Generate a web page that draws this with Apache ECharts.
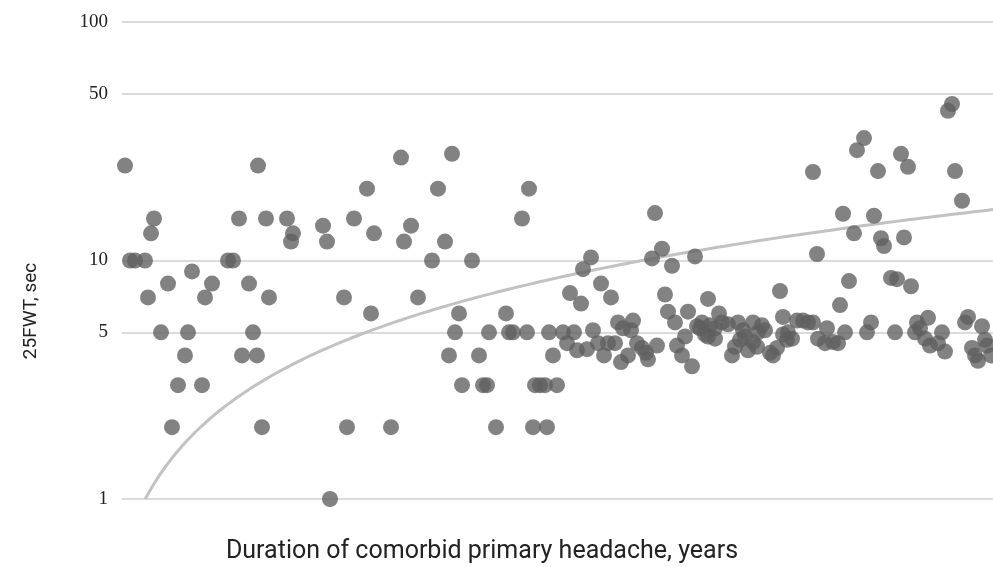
<!DOCTYPE html>
<html>
<head>
<meta charset="utf-8">
<script src="https://cdn.jsdelivr.net/npm/echarts@6/dist/echarts.min.js"></script>
<style>html,body{margin:0;padding:0;background:#fff}#c{width:993px;height:567px}</style>
</head>
<body>
<div id="c"></div>
<script>
// Duration of comorbid primary headache (x, arbitrary units read from pixel position)
const durationX = [
0.3,0.8,1.3,2.3,2.6,2.9,3.2,3.9,4.6,5.0,5.6,6.3,6.6,7.0,8.0,8.3,9.0,10.6,11.1,11.7,
12.0,12.7,13.1,13.5,13.6,14.0,14.4,14.7,16.5,17.1,16.9,20.1,20.5,20.8,22.2,22.5,23.2,24.5,24.9,25.2,
26.9,27.9,28.2,28.9,29.6,31.0,31.6,32.3,32.7,33.0,33.3,33.7,34.0,35.0,35.7,36.1,36.5,36.7,37.4,38.4,
38.7,39.1,40.0,40.5,40.7,41.1,41.3,41.8,42.3,42.5,42.7,43.1,43.5,44.1,44.5,44.8,45.2,45.5,45.9,46.1,
46.5,46.9,47.1,47.6,47.9,48.2,48.6,48.9,49.3,49.6,49.9,50.1,50.6,50.9,51.1,51.5,52.0,52.4,52.6,53.0,
53.3,53.5,54.0,54.3,54.6,55.0,55.3,55.5,56.0,56.3,56.6,57.0,57.3,57.5,57.8,58.0,58.3,58.6,58.6,58.8,
59.3,59.3,59.7,60.0,60.6,61.0,61.3,61.6,61.8,62.1,62.3,62.6,63.1,63.1,63.5,63.6,64.0,64.3,64.8,65.1,
65.5,65.8,66.1,66.1,66.5,66.6,67.0,67.5,68.1,68.6,69.1,69.1,69.5,69.6,70.3,70.5,71.1,71.6,71.8,72.1,
72.3,72.7,73.2,73.5,74.2,74.5,74.9,75.2,75.6,75.9,76.2,76.9,77.3,77.5,77.9,78.2,78.6,78.9,79.3,79.5,
79.8,80.3,80.6,80.8,81.6,82.0,82.3,82.6,83.0,83.3,84.0,84.3,84.6,85.0,85.3,85.6,86.0,86.3,86.5,86.9
];
// 25FWT, sec
const fwtSec = [
25,10,10,10,7,13,15,5,8,2,3,4,5,9,3,7,8,10,10,15,
4,8,5,4,25,2,15,7,15,13,12,14,12,1,7,2,15,20,6,13,
2,27,12,14,7,10,20,12,4,28,5,6,3,10,4,3,3,5,2,6,
5,5,15,5,20,2,3,3,3,2,5,4,3,5,4.5,7.3,5,4.2,6.6,9.2,
4.25,10.3,5.1,4.5,8,4,4.5,7,4.5,5.5,3.75,5.2,4,5.1,5.6,4.5,4.3,4.1,3.85,10.2,
15.8,4.4,11.2,7.2,6.1,9.5,5.5,4.4,4,4.8,6.1,3.6,10.4,5.3,5.2,5.5,4.9,6.9,4.8,5.35,
5.2,4.7,6,5.5,5.4,4,4.35,5.5,4.65,5.1,4.8,4.2,5.5,4.55,4.35,5,5.35,5.1,4.1,4,
4.3,7.45,5.8,4.9,4.65,5,4.7,5.6,5.6,5.5,5.5,23.5,10.65,4.7,4.5,5.2,4.55,4.5,6.5,15.7,
5,8.2,13,29,32.6,5,5.5,15.4,23.7,12.4,11.5,8.45,5,8.35,28,12.5,24.7,7.8,5,5.5,
5.2,4.7,5.75,4.4,4.5,5,4.15,42.4,45.3,23.7,17.8,5.5,5.8,4.3,4,3.8,5.3,4.65,4.4,4.0
];
// y-axis tick labels
const yTicks = [1, 5, 10, 50, 100];
// linear trendline: y = a + b*x
const trendIntercept = 0.58;
const trendSlope = 0.181;
const xMax = 87.1;

const points = durationX.map((x, i) => [x, fwtSec[i]]);
const xStart = (1 - trendIntercept) / trendSlope;
const trend = [];
for (let k = 0; k <= 120; k++) {
  const x = xStart + (xMax - xStart) * k / 120;
  trend.push([x, trendIntercept + trendSlope * x]);
}

const chart = echarts.init(document.getElementById('c'));
chart.setOption({
  animation: false,
  grid: { left: 122, right: 0, top: 22, bottom: 68, containLabel: false },
  xAxis: {
    type: 'value', min: 0, max: xMax,
    axisLine: { show: false }, axisTick: { show: false },
    axisLabel: { show: false }, splitLine: { show: false }
  },
  yAxis: {
    type: 'log', logBase: 10, min: 1, max: 100,
    axisLine: { show: false },
    axisTick: { show: false, customValues: yTicks },
    axisLabel: {
      customValues: yTicks, margin: 14,
      fontFamily: 'Liberation Serif', fontSize: 19, color: '#222'
    },
    splitLine: { show: true, lineStyle: { color: '#cfcfcf', width: 1.5 } }
  },
  graphic: [
    { type: 'text', x: 31, y: 311, rotation: Math.PI / 2,
      style: { text: '25FWT, sec', font: '19px Roboto', fill: '#222', textAlign: 'center', textVerticalAlign: 'middle' } },
    { type: 'text', x: 482, y: 552,
      style: { text: 'Duration of comorbid primary headache, years', font: '25px Roboto', fill: '#222', textAlign: 'center', textVerticalAlign: 'middle' } }
  ],
  series: [
    { type: 'line', data: trend, showSymbol: false, smooth: false, z: 1,
      lineStyle: { color: '#c2c2c2', width: 3 } },
    { type: 'scatter', data: points, symbolSize: 16, z: 2, clip: true,
      itemStyle: { color: '#5f5f5f', opacity: 0.78 } }
  ]
});
</script>
</body>
</html>
